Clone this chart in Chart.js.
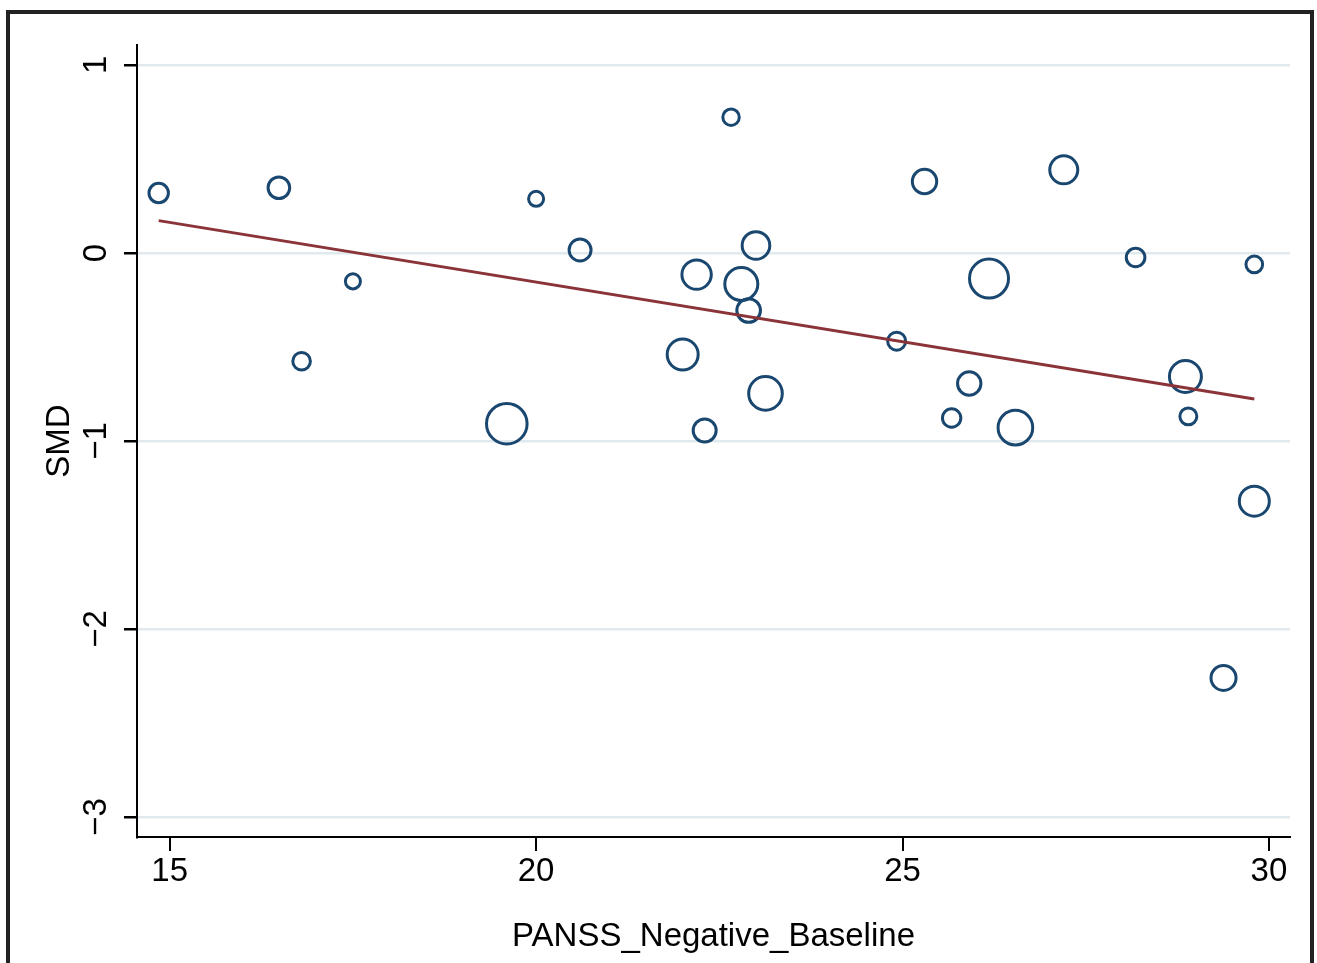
<!DOCTYPE html>
<html>
<head>
<meta charset="utf-8">
<title>SMD vs PANSS_Negative_Baseline</title>
<script src="https://cdn.jsdelivr.net/npm/chart.js@4.4.1/dist/chart.umd.min.js"></script>
<style>
  html, body { margin: 0; padding: 0; background: #fff; overflow: hidden; }
  #wrap { position: relative; width: 1317px; height: 963px; }
  #plot { position: absolute; left: 0; top: 0; }
  /* outer graph frame, runs past the bottom of the picture */
  #frame {
    position: absolute; left: 6px; top: 10px; width: 1300px; height: 1000px;
    border: 4px solid #222; pointer-events: none;
  }
</style>
</head>
<body>
<div id="wrap">
  <canvas id="plot" width="1317" height="963"></canvas>
  <div id="frame"></div>
</div>
<script>
// --- data ---
const panssBaseline = [14.85, 16.49, 16.80, 17.50, 19.60, 20.00, 20.60, 22.00, 22.19, 22.30,
                       22.66, 22.80, 22.90, 23.00, 23.13, 24.92, 25.30, 25.67, 25.91, 26.18,
                       26.54, 27.20, 28.18, 28.86, 28.90, 29.38, 29.80, 29.80];
const smd          = [0.319, 0.347, -0.576, -0.151, -0.908, 0.288, 0.016, -0.540, -0.115, -0.944,
                       0.722, -0.165, -0.306, 0.040, -0.747, -0.469, 0.380, -0.878, -0.694, -0.136,
                       -0.929, 0.442, -0.024, -0.657, -0.869, -2.260, -0.061, -1.320];
const weights      = [10.5, 13.0, 8.6, 6.3, 45.8, 6.3, 13.4, 26.7, 24.0, 14.7,
                       7.5, 30.3, 15.5, 21.2, 31.4, 9.0, 16.5, 9.4, 15.2, 42.3,
                       33.3, 21.8, 9.6, 28.4, 8.0, 17.4, 7.7, 25.0];
const fitX = [14.85, 29.80];
const fitY = [0.172, -0.777];

const xTicks = [15, 20, 25, 30];
const xTickLabels = ['15', '20', '25', '30'];
const yTicks = [-3, -2, -1, 0, 1];
const yTickLabels = ['\u22123', '\u22122', '\u22121', '0', '1'];

const FONT = 'Liberation Sans, Arial, Helvetica, sans-serif';
const NAVY = '#1a476f';
const MAROON = '#8a3339';

// bubble radius grows with sqrt of the weight
const bubbles = panssBaseline.map((x, i) => ({ x, y: smd[i], r: 3 * Math.sqrt(weights[i]) }));
const fitLine = fitX.map((x, i) => ({ x, y: fitY[i] }));

// Stata style: y tick labels turned 90 degrees
const rotatedYLabels = {
    id: 'rotatedYLabels',
    afterDraw(chart) {
        const ys = chart.scales.y;
        const ctx = chart.ctx;
        ctx.save();
        ctx.fillStyle = '#000';
        ctx.font = '33px ' + FONT;
        ctx.textAlign = 'center';
        ctx.textBaseline = 'middle';
        yTicks.forEach((v, i) => {
            ctx.save();
            ctx.translate(97, ys.getPixelForValue(v));
            ctx.rotate(-Math.PI / 2);
            ctx.fillText(yTickLabels[i], 0, 0);
            ctx.restore();
        });
        ctx.restore();
    }
};

new Chart(document.getElementById('plot'), {
    type: 'bubble',
    data: {
        datasets: [
            {
                type: 'line',
                data: fitLine,
                borderColor: MAROON,
                borderWidth: 3,
                pointRadius: 0,
                fill: false,
                order: 0
            },
            {
                data: bubbles,
                backgroundColor: 'rgba(0,0,0,0)',
                borderColor: NAVY,
                borderWidth: 3,
                hoverRadius: 0,
                order: 1
            }
        ]
    },
    options: {
        responsive: false,
        animation: false,
        devicePixelRatio: 1,
        layout: { padding: { left: 0, top: 45, right: 27, bottom: 0 } },
        plugins: { legend: { display: false }, tooltip: { enabled: false } },
        scales: {
            x: {
                type: 'linear',
                min: 14.554,
                max: 30.287,
                afterBuildTicks: s => { s.ticks = xTicks.map(v => ({ value: v })); },
                afterFit: s => { s.height = 126; },
                grid: { drawOnChartArea: false, tickLength: 14, tickColor: '#000', lineWidth: 2 },
                border: { color: '#000', width: 2 },
                ticks: {
                    color: '#000',
                    font: { family: FONT, size: 33 },
                    padding: 1,
                    maxRotation: 0,
                    callback: (v) => xTickLabels[xTicks.indexOf(v)]
                },
                title: {
                    display: true,
                    text: 'PANSS_Negative_Baseline',
                    color: '#000',
                    font: { family: FONT, size: 33 },
                    padding: { top: 0, bottom: 6 }
                }
            },
            y: {
                type: 'linear',
                min: -3.106,
                max: 1.106,
                afterBuildTicks: s => { s.ticks = yTicks.map(v => ({ value: v })); },
                afterFit: s => { s.width = 137; },
                grid: { color: '#dfe9ee', tickColor: '#000', tickLength: 13, lineWidth: 2.5 },
                border: { color: '#000', width: 2 },
                ticks: { display: false },
                title: {
                    display: true,
                    text: 'SMD',
                    color: '#000',
                    font: { family: FONT, size: 33 },
                    padding: { top: 40, bottom: 0 }
                }
            }
        }
    },
    plugins: [rotatedYLabels]
});
</script>
</body>
</html>
